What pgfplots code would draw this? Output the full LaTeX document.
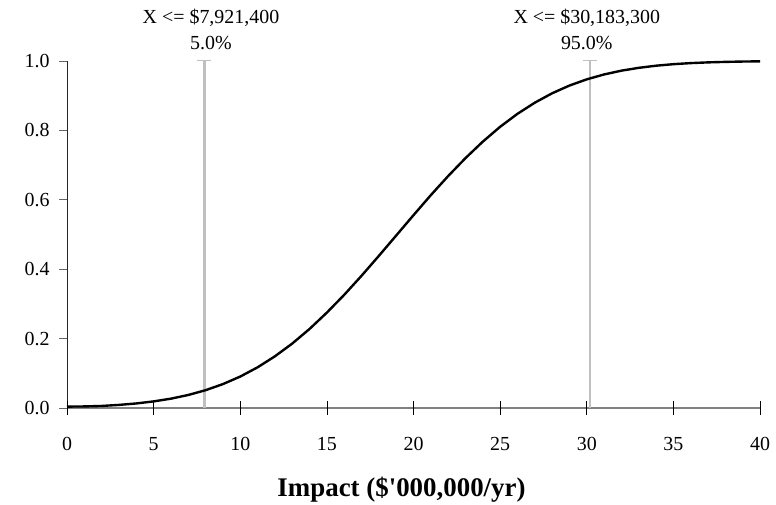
\documentclass[border=0pt]{standalone}
\usepackage{fontspec}
\setmainfont{Liberation Serif}
\usepackage{pgfplots}
\pgfplotsset{compat=1.18}
\definecolor{vgray}{HTML}{C0C0C0}
\definecolor{agray}{HTML}{808080}
\pgfplotstableread{
x y
0 0.004
1 0.0045
2 0.0059
3 0.0089
4 0.0131
5 0.0190
6 0.0269
7 0.0375
8 0.0513
9 0.0689
10 0.0906
11 0.1172
12 0.1489
13 0.1857
14 0.2278
15 0.2749
16 0.3261
17 0.3810
18 0.4384
19 0.4970
20 0.5557
21 0.6134
22 0.6684
23 0.7201
24 0.7676
25 0.8103
26 0.8477
27 0.8798
28 0.9069
29 0.9292
30 0.9471
31 0.9612
32 0.9721
33 0.9803
34 0.9864
35 0.9908
36 0.9939
37 0.9960
38 0.9974
39 0.9984
40 0.9990
}\cdf
\begin{document}
\begin{tikzpicture}[x=1bp,y=1bp]
\useasboundingbox (0,0) rectangle (776,505);
\begin{axis}[
  at={(67bp,97bp)}, anchor=south west,
  scale only axis, width=693bp, height=347bp,
  xmin=0, xmax=40, ymin=0, ymax=1,
  axis lines*=left,
  x axis line style={agray, line width=1.5pt},
  y axis line style={black!85, line width=0.8pt},
  xtick=\empty,
  extra x ticks={0,5,10,15,20,25,30,35,40},
  extra x tick labels={0,5,10,15,20,25,30,35,40},
  extra x tick style={tick align=center, major tick length=14bp,
     tick style={black, line width=0.7pt},
     xticklabel style={yshift=-19bp}},
  ytick={0,0.2,0.4,0.6,0.8,1},
  yticklabels={0.0,0.2,0.4,0.6,0.8,1.0},
  ytick align=outside,
  major tick length=8bp,
  ytick style={black!60, line width=0.8pt},
  tick label style={font=\fontsize{20}{22}\selectfont},
  yticklabel style={xshift=-6bp},
  xlabel={Impact (\$\textquotesingle 000,000/yr)},
  xlabel style={font=\fontsize{27}{30}\selectfont\bfseries,
     at={(axis description cs:0.4827,0)}, anchor=base, yshift=-89bp},
  clip=false,
]
\addplot[vgray, line width=2.6pt] coordinates {(7.9214,0) (7.9214,1)};
\addplot[vgray, line width=1pt] coordinates {(7.52,1) (8.32,1)};
\addplot[vgray, line width=2.6pt] coordinates {(30.1833,0) (30.1833,1)};
\addplot[vgray, line width=1pt] coordinates {(29.78,1) (30.58,1)};
\addplot[black, line width=2.4pt] table {\cdf};
\node[anchor=base, font=\fontsize{20}{22}\selectfont] at (axis cs:8.31,1.107) {X <= \$7,921,400};
\node[anchor=base, font=\fontsize{20}{22}\selectfont] at (axis cs:8.31,1.032) {5.0\%};
\node[anchor=base, font=\fontsize{20}{22}\selectfont] at (axis cs:30.0,1.107) {X <= \$30,183,300};
\node[anchor=base, font=\fontsize{20}{22}\selectfont] at (axis cs:30.0,1.032) {95.0\%};
\end{axis}
\end{tikzpicture}
\end{document}
